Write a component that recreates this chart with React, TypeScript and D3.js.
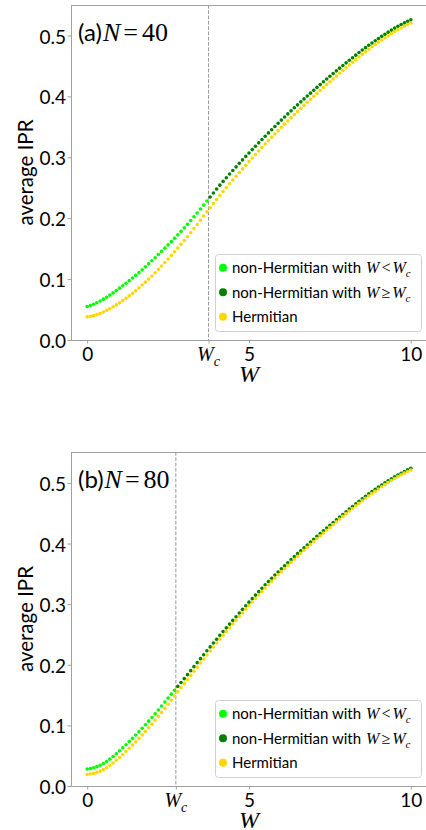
import React, { useEffect, useRef } from 'react';
import * as d3 from 'd3';

// disorder strengths W = 0, 0.1, ..., 10
const W_GRID = d3.range(0, 101).map((i) => i / 10);

// panel (a), N = 40
const nonHerm40 = [
  0.0550, 0.0567, 0.0588, 0.0612, 0.0640, 0.0671,
  0.0703, 0.0737, 0.0773, 0.0811, 0.0851,
  0.0891, 0.0932, 0.0974, 0.1017, 0.1061,
  0.1106, 0.1153, 0.1201, 0.1250, 0.1300,
  0.1351, 0.1403, 0.1455, 0.1508, 0.1561,
  0.1615, 0.1670, 0.1726, 0.1783, 0.1841,
  0.1900, 0.1961, 0.2023, 0.2086, 0.2150,
  0.2215, 0.2281, 0.2347, 0.2413, 0.2479,
  0.2542, 0.2604, 0.2665, 0.2725, 0.2784,
  0.2842, 0.2900, 0.2957, 0.3014, 0.3070,
  0.3126, 0.3182, 0.3237, 0.3292, 0.3346,
  0.3400, 0.3453, 0.3506, 0.3558, 0.3610,
  0.3661, 0.3712, 0.3762, 0.3812, 0.3861,
  0.3910, 0.3958, 0.4006, 0.4053, 0.4100,
  0.4147, 0.4193, 0.4239, 0.4285, 0.4330,
  0.4375, 0.4419, 0.4463, 0.4507, 0.4550,
  0.4593, 0.4635, 0.4677, 0.4719, 0.4760,
  0.4800, 0.4839, 0.4877, 0.4914, 0.4950,
  0.4985, 0.5020, 0.5054, 0.5088, 0.5121,
  0.5151, 0.5179, 0.5206, 0.5232, 0.5257,
];
const herm40 = [
  0.0380, 0.0388, 0.0400, 0.0416, 0.0436, 0.0460,
  0.0486, 0.0514, 0.0544, 0.0576, 0.0610,
  0.0646, 0.0684, 0.0724, 0.0766, 0.0810,
  0.0855, 0.0902, 0.0950, 0.1000, 0.1051,
  0.1104, 0.1159, 0.1215, 0.1272, 0.1330,
  0.1389, 0.1449, 0.1509, 0.1570, 0.1632,
  0.1696, 0.1762, 0.1829, 0.1897, 0.1966,
  0.2035, 0.2104, 0.2172, 0.2240, 0.2307,
  0.2373, 0.2438, 0.2502, 0.2565, 0.2627,
  0.2688, 0.2749, 0.2809, 0.2869, 0.2928,
  0.2987, 0.3045, 0.3103, 0.3160, 0.3217,
  0.3273, 0.3328, 0.3383, 0.3437, 0.3491,
  0.3544, 0.3597, 0.3649, 0.3701, 0.3752,
  0.3802, 0.3852, 0.3902, 0.3951, 0.4000,
  0.4049, 0.4097, 0.4145, 0.4193, 0.4240,
  0.4287, 0.4333, 0.4379, 0.4425, 0.4470,
  0.4515, 0.4559, 0.4603, 0.4647, 0.4690,
  0.4732, 0.4773, 0.4813, 0.4852, 0.4890,
  0.4926, 0.4961, 0.4996, 0.5030, 0.5064,
  0.5094, 0.5123, 0.5151, 0.5178, 0.5204,
];

// panel (b), N = 80
const nonHerm80 = [
  0.0280, 0.0288, 0.0301, 0.0319, 0.0342, 0.0370,
  0.0404, 0.0443, 0.0486, 0.0532, 0.0580,
  0.0630, 0.0681, 0.0733, 0.0786, 0.0840,
  0.0896, 0.0953, 0.1011, 0.1070, 0.1130,
  0.1192, 0.1255, 0.1319, 0.1384, 0.1450,
  0.1515, 0.1579, 0.1643, 0.1707, 0.1771,
  0.1837, 0.1903, 0.1969, 0.2035, 0.2101,
  0.2166, 0.2231, 0.2295, 0.2359, 0.2422,
  0.2485, 0.2547, 0.2609, 0.2671, 0.2732,
  0.2793, 0.2854, 0.2914, 0.2974, 0.3033,
  0.3091, 0.3149, 0.3206, 0.3263, 0.3319,
  0.3373, 0.3426, 0.3479, 0.3531, 0.3583,
  0.3634, 0.3684, 0.3734, 0.3784, 0.3833,
  0.3881, 0.3929, 0.3977, 0.4024, 0.4071,
  0.4118, 0.4164, 0.4210, 0.4256, 0.4301,
  0.4346, 0.4391, 0.4436, 0.4480, 0.4524,
  0.4568, 0.4611, 0.4654, 0.4697, 0.4740,
  0.4780, 0.4819, 0.4857, 0.4894, 0.4930,
  0.4965, 0.5000, 0.5034, 0.5068, 0.5101,
  0.5131, 0.5160, 0.5188, 0.5215, 0.5241,
];
const herm80 = [
  0.0190, 0.0197, 0.0208, 0.0224, 0.0245, 0.0270,
  0.0301, 0.0338, 0.0380, 0.0424, 0.0470,
  0.0519, 0.0570, 0.0622, 0.0675, 0.0730,
  0.0786, 0.0843, 0.0901, 0.0960, 0.1020,
  0.1083, 0.1148, 0.1214, 0.1281, 0.1349,
  0.1417, 0.1485, 0.1553, 0.1621, 0.1689,
  0.1757, 0.1825, 0.1893, 0.1961, 0.2029,
  0.2096, 0.2162, 0.2228, 0.2294, 0.2359,
  0.2423, 0.2486, 0.2549, 0.2611, 0.2673,
  0.2735, 0.2796, 0.2857, 0.2917, 0.2977,
  0.3036, 0.3094, 0.3152, 0.3209, 0.3266,
  0.3321, 0.3376, 0.3430, 0.3484, 0.3537,
  0.3589, 0.3640, 0.3691, 0.3741, 0.3791,
  0.3840, 0.3889, 0.3938, 0.3986, 0.4034,
  0.4081, 0.4128, 0.4174, 0.4220, 0.4266,
  0.4312, 0.4358, 0.4403, 0.4448, 0.4493,
  0.4536, 0.4579, 0.4621, 0.4663, 0.4705,
  0.4746, 0.4786, 0.4825, 0.4863, 0.4900,
  0.4936, 0.4971, 0.5006, 0.5040, 0.5074,
  0.5104, 0.5133, 0.5161, 0.5188, 0.5214,
];

const Y_TICKS = [0, 0.1, 0.2, 0.3, 0.4, 0.5];
const X_TICKS = [0, 5, 10];

const SANS = 'Lato, "Open Sans", sans-serif';
const SERIF = '"Liberation Serif", "DejaVu Serif", serif';
const SPINE = '#a0a0a0';
const LIGHT = '#00ff00';
const DARK = '#008000';
const GOLD = '#ffd700';

function drawPanel(svg, opts) {
  const { top, bottom, yMax, tag, n, wc, nonHerm, herm } = opts;
  const left = 71;
  const right = 427;

  const x = d3.scaleLinear().domain([-0.5, 10.5]).range([left, right]);
  const y = d3.scaleLinear().domain([0, yMax]).range([bottom, top]);
  const g = svg.append('g');

  // y axis
  const yAxis = g
    .append('g')
    .attr('transform', `translate(${left},0)`)
    .call(d3.axisLeft(y).tickValues(Y_TICKS).tickFormat(d3.format('.1f')).tickSize(3.5).tickPadding(1.5));
  yAxis.select('.domain').remove();
  yAxis.selectAll('line').attr('stroke', SPINE);
  yAxis
    .selectAll('text')
    .attr('font-family', SANS)
    .attr('font-size', 19)
    .attr('fill', '#000')
    .attr('dy', '0.4em');

  // x axis
  const xAxis = g
    .append('g')
    .attr('transform', `translate(0,${bottom})`)
    .call(d3.axisBottom(x).tickValues([...X_TICKS, wc]).tickFormat((d) => (d === wc ? '' : String(d))).tickSize(3.5));
  xAxis.select('.domain').remove();
  xAxis.selectAll('line').attr('stroke', SPINE);
  xAxis
    .selectAll('text')
    .attr('font-family', SANS)
    .attr('font-size', 19)
    .attr('fill', '#000')
    .attr('y', 20.5)
    .attr('dy', 0);

  // W_c tick label
  const wcText = g
    .append('text')
    .attr('x', x(wc))
    .attr('y', bottom + 20.5)
    .attr('text-anchor', 'middle')
    .attr('font-family', SERIF)
    .attr('font-style', 'italic');
  wcText.append('tspan').attr('font-size', 20).text('W');
  wcText.append('tspan').attr('font-size', 14).attr('dy', 5).text('c');

  // frame
  g.append('rect')
    .attr('x', left + 0.5)
    .attr('y', top + 0.5)
    .attr('width', right - left)
    .attr('height', bottom - top)
    .attr('fill', 'none')
    .attr('stroke', SPINE)
    .attr('stroke-width', 1);

  // critical disorder
  g.append('line')
    .attr('x1', x(wc))
    .attr('x2', x(wc))
    .attr('y1', top)
    .attr('y2', bottom)
    .attr('stroke', '#999')
    .attr('stroke-width', 1)
    .attr('stroke-dasharray', '3.7,1.6');

  const pts = W_GRID.map((w, i) => ({ w, nh: nonHerm[i], h: herm[i] }));
  const r = 1.8;

  g.append('g')
    .selectAll('circle')
    .data(pts.filter((d) => d.w < wc))
    .join('circle')
    .attr('cx', (d) => x(d.w))
    .attr('cy', (d) => y(d.nh))
    .attr('r', r)
    .attr('fill', LIGHT);

  g.append('g')
    .selectAll('circle')
    .data(pts.filter((d) => d.w >= wc))
    .join('circle')
    .attr('cx', (d) => x(d.w))
    .attr('cy', (d) => y(d.nh))
    .attr('r', r)
    .attr('fill', DARK);

  g.append('g')
    .selectAll('circle')
    .data(pts)
    .join('circle')
    .attr('cx', (d) => x(d.w))
    .attr('cy', (d) => y(d.h))
    .attr('r', r)
    .attr('fill', GOLD);

  // panel tag
  const tagText = g.append('text').attr('x', 78).attr('y', top + 36).attr('fill', '#000');
  tagText.append('tspan').attr('font-family', SANS).attr('font-size', 24).text(`(${tag})`);
  tagText.append('tspan').attr('font-family', SERIF).attr('font-style', 'italic').attr('font-size', 26).attr('dx', 1).text('N');
  tagText.append('tspan').attr('font-family', SERIF).attr('font-size', 26).attr('dx', 3).text('=');
  tagText.append('tspan').attr('font-family', SERIF).attr('font-size', 26).attr('dx', 4).text(String(n));

  // axis labels
  g.append('text')
    .attr('x', (left + right) / 2)
    .attr('y', bottom + 42)
    .attr('text-anchor', 'middle')
    .attr('font-family', SERIF)
    .attr('font-style', 'italic')
    .attr('font-size', 24)
    .text('W');

  g.append('text')
    .attr('transform', `translate(32.5,${(top + bottom) / 2}) rotate(-90)`)
    .attr('text-anchor', 'middle')
    .attr('font-family', SANS)
    .attr('font-size', 20.5)
    .text('average IPR');

  // legend
  const lw = 206;
  const lh = 77;
  const lx = 215;
  const ly = bottom - 9 - lh;
  const legend = g.append('g').attr('transform', `translate(${lx},${ly})`);
  legend
    .append('rect')
    .attr('x', 0.5)
    .attr('y', 0.5)
    .attr('width', lw)
    .attr('height', lh)
    .attr('rx', 3)
    .attr('fill', '#fff')
    .attr('fill-opacity', 0.8)
    .attr('stroke', '#d0d0d0');

  const items = [
    { color: LIGHT, rel: '<', math: true },
    { color: DARK, rel: '≥', math: true },
    { color: GOLD, math: false },
  ];
  items.forEach((it, i) => {
    const cy = 13.7 + i * 24.5;
    legend.append('circle').attr('cx', 8).attr('cy', cy).attr('r', 4).attr('fill', it.color);
    const t = legend.append('text').attr('x', 17).attr('y', cy + 5.3).attr('fill', '#000');
    if (!it.math) {
      t.append('tspan').attr('font-family', SANS).attr('font-size', 15).text('Hermitian');
      return;
    }
    t.append('tspan').attr('font-family', SANS).attr('font-size', 15).text('non-Hermitian with');
    t.append('tspan').attr('font-family', SERIF).attr('font-style', 'italic').attr('font-size', 16).attr('dx', 5).text('W');
    t.append('tspan').attr('font-family', SERIF).attr('font-size', 16).attr('dx', 2).text(it.rel);
    t.append('tspan').attr('font-family', SERIF).attr('font-style', 'italic').attr('font-size', 16).attr('dx', 2).text('W');
    t.append('tspan').attr('font-family', SERIF).attr('font-style', 'italic').attr('font-size', 11).attr('dy', 4).text('c');
  });
}

export default function App() {
  const ref = useRef(null);

  useEffect(() => {
    const svg = d3.select(ref.current);
    svg.selectAll('*').remove();
    drawPanel(svg, { top: 5, bottom: 340, yMax: 0.55, tag: 'a', n: 40, wc: 3.75, nonHerm: nonHerm40, herm: herm40 });
    drawPanel(svg, { top: 452, bottom: 786, yMax: 0.551, tag: 'b', n: 80, wc: 2.74, nonHerm: nonHerm80, herm: herm80 });
  }, []);

  return (
    <svg
      ref={ref}
      width={426}
      height={830}
      style={{ position: 'absolute', left: 0, top: 0, background: '#fff' }}
    />
  );
}
